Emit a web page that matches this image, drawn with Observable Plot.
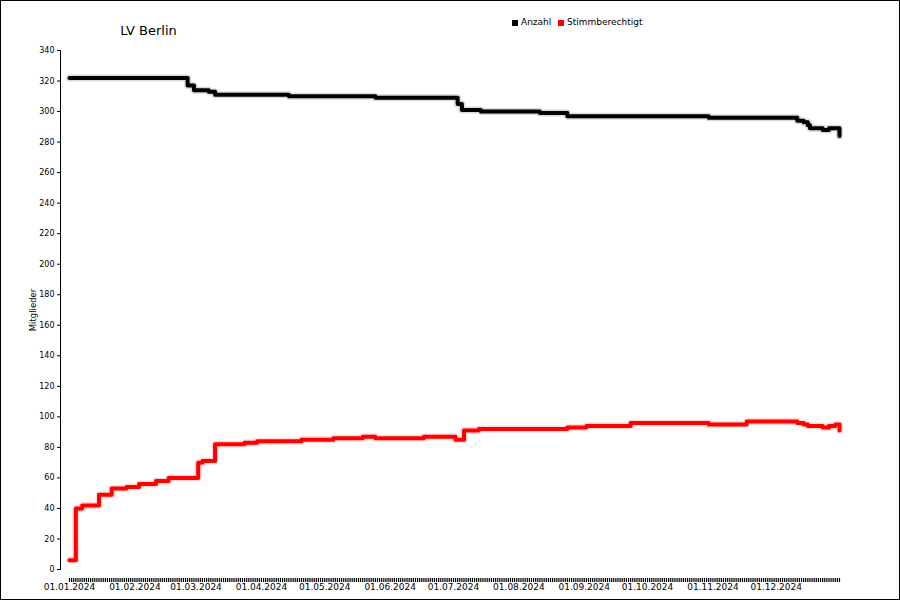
<!DOCTYPE html>
<html>
<head>
<meta charset="utf-8">
<script src="https://cdn.jsdelivr.net/npm/d3@7"></script>
<script src="https://cdn.jsdelivr.net/npm/@observablehq/plot@0.6"></script>
<style>
  body { margin: 0; background: #fff; }
  #wrap { position: relative; width: 900px; height: 600px; overflow: hidden;
          font-family: "DejaVu Sans", Verdana, sans-serif; color: #000; background: #fff; }
  #border { position: absolute; left: 0; top: 0; width: 900px; height: 600px; box-sizing: border-box;
            border: 1px solid #000; pointer-events: none; }
  #title { position: absolute; left: 0; width: 297px; top: 24px; text-align: center;
           font-size: 13px; line-height: 13px; white-space: nowrap; }
  .lg-sq { position: absolute; width: 6px; height: 6px; top: 20px; }
  .lg-tx { position: absolute; top: 18px; font-size: 9px; line-height: 9px; white-space: nowrap; }
  #ylabel { position: absolute; left: -17px; top: 305px; width: 100px; height: 10px; line-height: 10px;
            text-align: center; font-size: 8.5px; transform: rotate(-90deg); white-space: nowrap; }
  svg { display: block; }
</style>
</head>
<body>
<div id="wrap">
  <div id="title">LV Berlin</div>
  <div class="lg-sq" style="left:512px;background:#000"></div>
  <div class="lg-tx" style="left:521px">Anzahl</div>
  <div class="lg-sq" style="left:558px;background:#ff0000"></div>
  <div class="lg-tx" style="left:567px">Stimmberechtigt</div>
  <div id="ylabel">Mitglieder</div>
  <div id="chart"></div>
  <div id="border"></div>
</div>
<script>
// Series: change points (date, value); lines drawn with a step-after curve
const anzahlDates  = ["2024-01-01","2024-02-26","2024-02-29","2024-03-07","2024-03-10","2024-04-14","2024-05-25",
                      "2024-07-03","2024-07-05","2024-07-14","2024-08-11","2024-08-24","2024-10-30",
                      "2024-12-11","2024-12-14","2024-12-16","2024-12-17","2024-12-23","2024-12-26","2024-12-31"];
const anzahlValues = [322, 317, 314, 313, 311, 310, 309,
                      305, 301, 300, 299, 297, 296,
                      294, 293, 291, 289, 288, 289, 284];

const stimmDates  = ["2024-01-01","2024-01-04","2024-01-07","2024-01-15","2024-01-21","2024-01-28","2024-02-03",
                     "2024-02-11","2024-02-17","2024-03-02","2024-03-04","2024-03-10","2024-03-24","2024-03-30",
                     "2024-04-20","2024-05-05","2024-05-19","2024-05-25","2024-06-17","2024-07-02","2024-07-06",
                     "2024-07-13","2024-08-24","2024-09-02","2024-09-23","2024-10-30","2024-11-17",
                     "2024-12-11","2024-12-14","2024-12-16","2024-12-23","2024-12-26","2024-12-29","2024-12-31"];
const stimmValues = [6, 40, 42, 49, 53, 54, 56,
                     58, 60, 70, 71, 82, 83, 84,
                     85, 86, 87, 86, 87, 85, 91,
                     92, 93, 94, 96, 95, 97,
                     96, 95, 94, 93, 94, 95, 91];

const xStart = "2024-01-01";
const xEnd   = "2024-12-31";
const yTicks = [0, 20, 40, 60, 80, 100, 120, 140, 160, 180, 200, 220, 240, 260, 280, 300, 320, 340];
const monthTicks = ["2024-01-01","2024-02-01","2024-03-01","2024-04-01","2024-05-01","2024-06-01",
                    "2024-07-01","2024-08-01","2024-09-01","2024-10-01","2024-11-01","2024-12-01"];

const anzahl = anzahlDates.map((d, i) => ({date: new Date(d), value: anzahlValues[i]}));
const stimm  = stimmDates.map((d, i) => ({date: new Date(d), value: stimmValues[i]}));
const dayTicks = d3.utcDay.range(new Date(xStart), d3.utcDay.offset(new Date(xEnd), 1));
const fmt = d3.utcFormat("%d.%m.%Y");

const lineOpts = {x: "date", y: "value", curve: "step-after", strokeLinejoin: "round", strokeLinecap: "round"};

const chart = Plot.plot({
  width: 900, height: 600,
  marginLeft: 60, marginRight: 61, marginTop: 50, marginBottom: 22,
  insetLeft: 9, insetBottom: 9,
  style: {fontFamily: "DejaVu Sans, Verdana, sans-serif", background: "transparent", color: "#000"},
  x: {type: "utc", domain: [new Date(xStart), new Date(xEnd)]},
  y: {domain: [0, 340]},
  marks: [
    Plot.frame({anchor: "left", insetBottom: 9}),
    Plot.axisY({ticks: yTicks, tickSize: 3, tickPadding: 3, fontSize: 8, label: null}),
    Plot.axisX({ticks: dayTicks, tickSize: 4, strokeWidth: 1.2, tickFormat: () => "", label: null}),
    Plot.axisX({ticks: monthTicks.map(d => new Date(d)), tickSize: 0, tickPadding: 5,
                tickFormat: fmt, fontSize: 9, label: null}),
    Plot.line(anzahl, {...lineOpts, stroke: "#000", strokeWidth: 7, strokeOpacity: 0.15}),
    Plot.line(anzahl, {...lineOpts, stroke: "#000", strokeWidth: 4}),
    Plot.line(stimm, {...lineOpts, stroke: "#ff0000", strokeWidth: 7, strokeOpacity: 0.15}),
    Plot.line(stimm, {...lineOpts, stroke: "#ff0000", strokeWidth: 4})
  ]
});
document.getElementById("chart").appendChild(chart);
</script>
</body>
</html>
